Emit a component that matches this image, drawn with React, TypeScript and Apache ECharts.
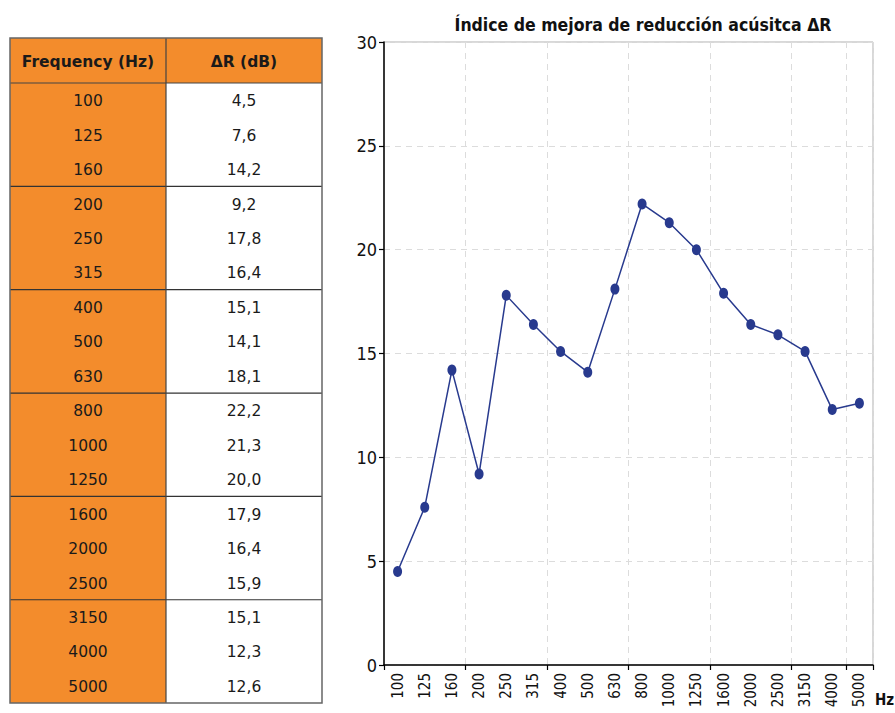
import React, { useEffect, useRef } from "react";
import * as echarts from "echarts";

const frequencies = ["100", "125", "160", "200", "250", "315", "400", "500", "630", "800", "1000", "1250", "1600", "2000", "2500", "3150", "4000", "5000"];
const deltaR = [4.5, 7.6, 14.2, 9.2, 17.8, 16.4, 15.1, 14.1, 18.1, 22.2, 21.3, 20.0, 17.9, 16.4, 15.9, 15.1, 12.3, 12.6];
const tableHeaders = ["Frequency (Hz)", "ΔR (dB)"];
const chartTitle = "Índice de mejora de reducción acúsitca ΔR";
const xUnit = "Hz";
const yMin = 0;
const yMax = 30;
const yStep = 5;

const W = 895;
const H = 713;

const ORANGE = "#F38C2C";
const LINE_BLUE = "#283A8E";

function fmt(v: number): string {
  return v.toFixed(1).replace(".", ",");
}

function buildTable(): any[] {
  const left = 10;
  const top = 38;
  const colW = 156;
  const headH = 45;
  const rowH = 34.45;
  const n = frequencies.length;
  const bodyH = rowH * n;
  const totalH = headH + bodyH;
  const els: any[] = [];
  els.push({ type: "rect", shape: { x: left, y: top, width: colW, height: totalH }, style: { fill: ORANGE } });
  els.push({ type: "rect", shape: { x: left + colW, y: top, width: colW, height: headH }, style: { fill: ORANGE } });
  els.push({ type: "rect", shape: { x: left + colW, y: top + headH, width: colW, height: bodyH }, style: { fill: "#ffffff" } });
  tableHeaders.forEach((h, i) => {
    els.push({
      type: "text",
      x: left + colW * i + colW / 2,
      y: top + headH / 2 + 1,
      style: { text: h, fill: "#1a1a1a", font: "bold 15.5px 'DejaVu Sans'", align: "center", verticalAlign: "middle" },
    });
  });
  frequencies.forEach((f, i) => {
    const cy = top + headH + rowH * (i + 0.5) + 1;
    els.push({ type: "text", x: left + colW / 2, y: cy, style: { text: f, fill: "#1a1a1a", font: "15.5px 'DejaVu Sans'", align: "center", verticalAlign: "middle" } });
    els.push({ type: "text", x: left + colW * 1.5, y: cy, style: { text: fmt(deltaR[i]), fill: "#1a1a1a", font: "15.5px 'DejaVu Sans'", align: "center", verticalAlign: "middle" } });
  });
  els.push({ type: "line", shape: { x1: left, y1: top + headH, x2: left + 2 * colW, y2: top + headH }, style: { stroke: "#444", lineWidth: 1.2 } });
  for (let i = 3; i < n; i += 3) {
    const y = top + headH + rowH * i;
    els.push({ type: "line", shape: { x1: left, y1: y, x2: left + 2 * colW, y2: y }, style: { stroke: "#333", lineWidth: 1.2 } });
  }
  els.push({ type: "line", shape: { x1: left + colW, y1: top, x2: left + colW, y2: top + totalH }, style: { stroke: "#444", lineWidth: 1.2 } });
  els.push({ type: "rect", shape: { x: left, y: top, width: 2 * colW, height: totalH }, style: { fill: "none", stroke: "#666", lineWidth: 1.5 } });
  return els;
}

export default function App() {
  const ref = useRef<HTMLDivElement>(null);
  useEffect(() => {
    if (!ref.current) return;
    const chart = echarts.init(ref.current, undefined, { renderer: "svg" });
    const option: any = {
      animation: false,
      backgroundColor: "#ffffff",
      title: {
        text: chartTitle,
        left: 638,
        top: 11,
        textAlign: "center",
        textStyle: { fontFamily: "'DejaVu Sans Condensed', 'DejaVu Sans'", fontWeight: "bold", fontSize: 17.5, color: "#111" },
      },
      grid: {
        left: 384,
        top: 42,
        width: 489,
        height: 623,
        containLabel: false,
        outerBoundsMode: "none",
        show: true,
        borderColor: "#b0b0b0",
        borderWidth: 1,
        backgroundColor: "transparent",
      },
      xAxis: {
        type: "category",
        data: frequencies,
        boundaryGap: true,
        axisLine: { show: true, lineStyle: { color: "#000", width: 1.5 } },
        axisTick: { show: true, interval: 2, length: 5, lineStyle: { color: "#000", width: 1.2 } },
        splitLine: { show: true, interval: 2, lineStyle: { color: "#dcdcdc", type: [6, 5], width: 1 } },
        axisLabel: { interval: 0, rotate: 90, fontSize: 15, fontFamily: "'DejaVu Sans Condensed', 'DejaVu Sans'", color: "#111", margin: 8, hideOverlap: false },
      },
      yAxis: {
        type: "value",
        min: yMin,
        max: yMax,
        interval: yStep,
        axisLine: { show: true, lineStyle: { color: "#000", width: 1.5 } },
        axisTick: { show: true, length: 5, lineStyle: { color: "#000", width: 1.2 } },
        splitLine: { show: true, lineStyle: { color: "#dcdcdc", type: [6, 5], width: 1 } },
        axisLabel: { fontSize: 18, fontFamily: "'DejaVu Sans Condensed', 'DejaVu Sans'", color: "#111", margin: 7 },
      },
      series: [
        {
          type: "line",
          data: deltaR,
          color: LINE_BLUE,
          symbol: "circle",
          symbolSize: [9, 11],
          lineStyle: { color: LINE_BLUE, width: 1.5 },
          itemStyle: { color: LINE_BLUE },
          z: 5,
        },
      ],
      graphic: [
        ...buildTable(),
        {
          type: "text",
          x: 875,
          y: 700,
          style: { text: xUnit, fill: "#111", font: "bold 15px 'DejaVu Sans Condensed'", align: "left", verticalAlign: "middle" },
        },
      ],
    };
    chart.setOption(option);
    return () => chart.dispose();
  }, []);
  return (
    <div style={{ position: "fixed", left: 0, top: 0, width: W, height: H, overflow: "hidden", background: "#fff" }}>
      <div ref={ref} style={{ width: W, height: H }} />
    </div>
  );
}
